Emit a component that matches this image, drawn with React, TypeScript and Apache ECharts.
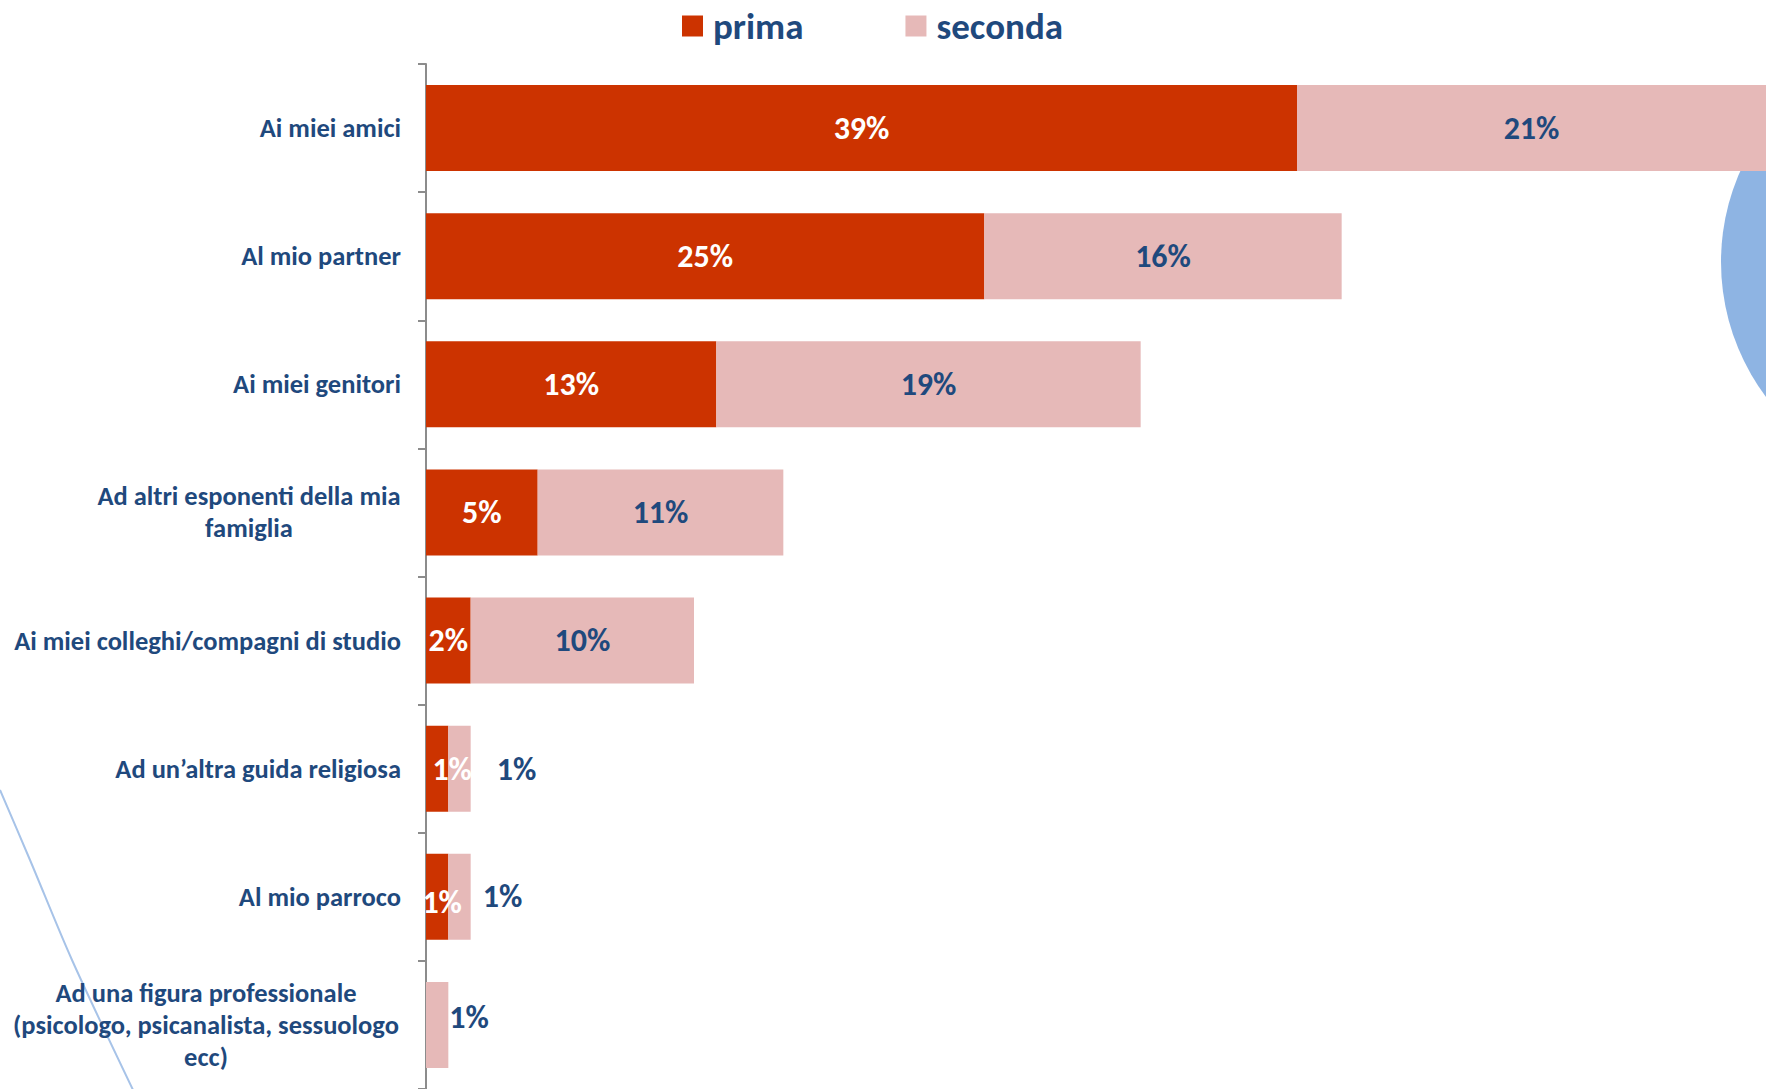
import React, { useEffect, useRef } from "react";
import * as echarts from "echarts";

const categories = [
  "Ai miei amici",
  "Al mio partner",
  "Ai miei genitori",
  "Ad altri esponenti della mia\nfamiglia",
  "Ai miei colleghi/compagni di studio",
  "Ad un’altra guida religiosa",
  "Al mio parroco",
  "Ad una figura professionale\n(psicologo, psicanalista, sessuologo\necc)",
];
const prima = [39, 25, 13, 5, 2, 1, 1, 0];
const seconda = [21, 16, 19, 11, 10, 1, 1, 1];
const seriesNames = ["prima", "seconda"];

const NAVY = "#1F497D";
const RED = "#CC3300";
const PINK = "#E6B9B8";
const FONT = "Carlito, Calibri, Lato, sans-serif";

export default function App() {
  const ref = useRef<HTMLDivElement>(null);
  useEffect(() => {
    if (!ref.current) return;
    const chart = echarts.init(ref.current, undefined, { renderer: "svg" });

    const primaData = prima.map((v, i) => {
      const item: any = { value: v };
      if (v === 0) item.label = { show: false };
      if (i === 5) item.label = { offset: [15, 1] };
      if (i === 6) item.label = { offset: [5, 6] };
      return item;
    });
    const secondaData = seconda.map((v, i) => {
      const item: any = { value: v };
      if (i === 5) item.label = { position: "right", distance: 26, offset: [0, 1] };
      if (i === 6) item.label = { position: "right", distance: 12 };
      if (i === 7) item.label = { position: "right", distance: 1, offset: [0, -7] };
      return item;
    });

    const labelFont = { fontFamily: FONT, fontWeight: "bold" as const, fontSize: 26.5, color: NAVY, lineHeight: 32 };

    chart.setOption({
      animation: false,
      backgroundColor: "#ffffff",
      graphic: [
        {
          type: "circle",
          z: 0,
          shape: { cx: 1946, cy: 262, r: 225 },
          style: { fill: "#8EB4E3" },
        },
        {
          type: "polyline",
          z: 0,
          shape: { points: [[0, 790], [30, 860], [72, 960], [134, 1092]], smooth: 0.3 },
          style: { stroke: "#A7C3E8", lineWidth: 2, fill: null },
        },
      ],
      legend: {
        data: seriesNames,
        left: 677,
        top: 1,
        icon: "rect",
        itemWidth: 21,
        itemHeight: 21,
        itemGap: 102,
        textStyle: {
          fontFamily: FONT,
          fontWeight: "bold",
          fontSize: 37,
          lineHeight: 40,
          color: NAVY,
          padding: [0, 0, 0, 5],
        },
      },
      grid: { left: 426, top: 64, width: 1342, height: 1028, containLabel: false },
      xAxis: { type: "value", min: 0, max: 60, show: false },
      yAxis: {
        type: "category",
        data: categories,
        inverse: true,
        axisLine: { show: true, lineStyle: { color: "#8C8C8C", width: 2 } },
        axisTick: { show: true, length: 8, lineStyle: { color: "#8C8C8C", width: 2 } },
        axisLabel: {
          margin: 25,
          ...labelFont,
          formatter: (v: string) => {
            if (v.indexOf("\n") < 0) return v;
            const key = v.startsWith("Ad altri") ? "a" : "b";
            return v
              .split("\n")
              .map((l) => `{${key}|${l}}`)
              .join("\n");
          },
          rich: {
            a: { ...labelFont, width: 304, align: "center" },
            b: { ...labelFont, width: 390, align: "center" },
          },
        },
      },
      series: [
        {
          name: "prima",
          type: "bar",
          stack: "tot",
          barWidth: 86,
          itemStyle: { color: RED },
          label: {
            show: true,
            position: "inside",
            formatter: "{c}%",
            fontFamily: FONT,
            fontWeight: "bold",
            fontSize: 32,
            color: "#ffffff",
          },
          data: primaData,
        },
        {
          name: "seconda",
          type: "bar",
          stack: "tot",
          barWidth: 86,
          itemStyle: { color: PINK },
          label: {
            show: true,
            position: "inside",
            formatter: "{c}%",
            fontFamily: FONT,
            fontWeight: "bold",
            fontSize: 32,
            color: NAVY,
          },
          data: secondaData,
        },
      ],
    });
    return () => chart.dispose();
  }, []);
  return (
    <div
      ref={ref}
      style={{ position: "fixed", left: 0, top: 0, width: 1766, height: 1089, background: "#fff" }}
    />
  );
}
